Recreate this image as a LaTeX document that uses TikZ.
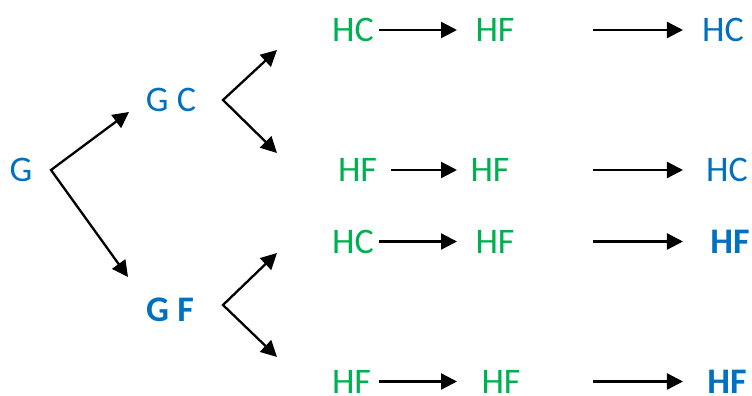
\documentclass[tikz,border=0pt]{standalone}
\usepackage{fontspec}
\setmainfont{Carlito}
\usepackage{tikz}
\definecolor{genblue}{RGB}{0,112,192}
\definecolor{gengreen}{RGB}{0,176,80}
\usetikzlibrary{arrows.meta}
\usetikzlibrary{positioning}
\tikzset{gene/.style={text=genblue,inner sep=0pt,outer sep=0pt,font=\fontsize{18}{20}\selectfont}}
\tikzset{genebold/.style={gene,font=\fontsize{18}{20}\selectfont\bfseries}}
\tikzset{hap/.style={gene,text=gengreen}}
\tikzset{line/.style={black,line width=1.15pt,-{Triangle[length=8pt,width=8pt]}}}
\tikzset{fork/.style={line,{Triangle[length=8pt,width=8pt]}-{Triangle[length=8pt,width=8pt]},line join=miter}}

\begin{document}
\begin{tikzpicture}[x=0.5pt,y=-0.5pt]
  \useasboundingbox (0,0) rectangle (752,396);

  % Parents
  \node[gene] (G) at (21,170) {G};
  \node[gene] (GC) at (171,100) {G C};
  \node[genebold] (GF) at (170,310) {G F};

  % Forks
  \coordinate (fG) at (51,170);
  \coordinate (fGC) at (223,100);
  \coordinate (fGF) at (223,305);
  \coordinate (tGC) at (129,112);
  \coordinate (tGF) at (128,277);
  \coordinate (tA) at (277,50);
  \coordinate (tB) at (277,153);
  \coordinate (tC) at (277,253);
  \coordinate (tD) at (277,357);
  \draw[fork] (tGC) -- (fG) -- (tGF);
  \draw[fork] (tA) -- (fGC) -- (tB);
  \draw[fork] (tC) -- (fGF) -- (tD);

  % Rows
  \node[hap] (a1) at (353,30) {HC};
  \node[hap] (b1) at (495,30) {HF};
  \node[gene] (c1) at (723,30) {HC};
  \node[hap] (a2) at (357.5,170) {HF};
  \node[hap] (b2) at (490,170) {HF};
  \node[gene] (c2) at (727,170) {HC};
  \node[hap] (a3) at (353,241.5) {HC};
  \node[hap] (b3) at (495,241.5) {HF};
  \node[genebold] (c3) at (730,241.5) {HF};
  \node[hap] (a4) at (351.5,381.5) {HF};
  \node[hap] (b4) at (501,381.5) {HF};
  \node[genebold] (c4) at (727,381.5) {HF};

  % Arrows
  \draw[line,shorten <=2.6pt,shorten >=9.25pt] (a1) -- (b1);
  \draw[line,shorten <=39.25pt,shorten >=9.6pt] (b1) -- (c1);
  \draw[line,shorten <=7pt,shorten >=6.75pt] (a2) -- (b2);
  \draw[line,shorten <=41.75pt,shorten >=11.6pt] (b2) -- (c2);
  \draw[line,shorten <=2.6pt,shorten >=9.25pt] (a3) -- (b3);
  \draw[line,shorten <=39.25pt,shorten >=13.7pt] (b3) -- (c3);
  \draw[line,shorten <=4pt,shorten >=12.25pt] (a4) -- (b4);
  \draw[line,shorten <=36.25pt,shorten >=12.2pt] (b4) -- (c4);
\end{tikzpicture}
\end{document}
